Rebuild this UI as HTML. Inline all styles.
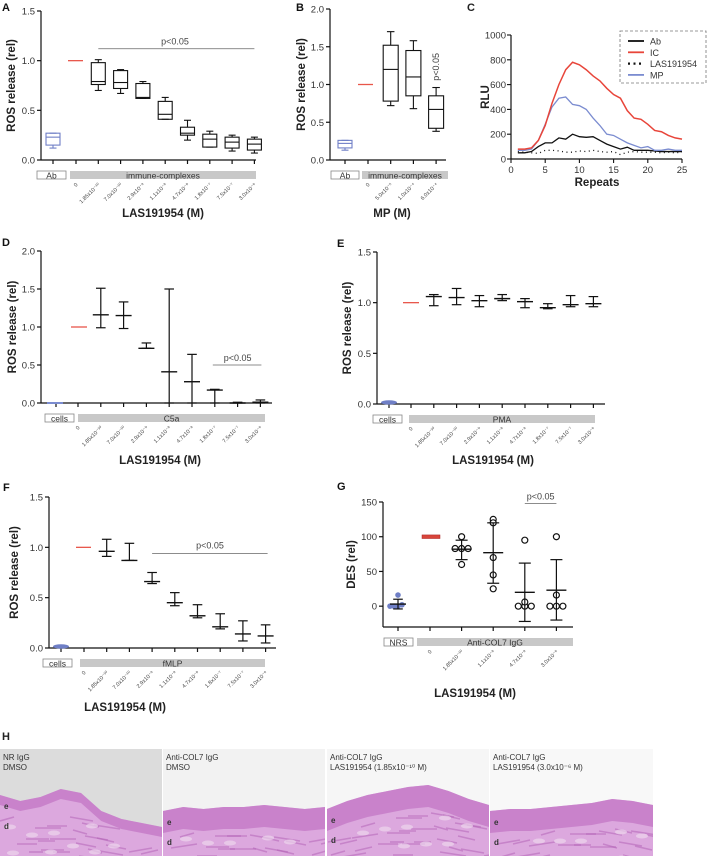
<!DOCTYPE html>
<html><head><meta charset="utf-8"><style>
html,body{margin:0;padding:0;background:#fff;overflow:hidden;width:708px;height:856px;}
svg{display:block;font-family:"Liberation Sans",Arial,sans-serif;}
</style></head><body>
<svg id="fig" width="708" height="856" viewBox="0 0 708 856" xmlns="http://www.w3.org/2000/svg"></svg>
<script>
// ---------- DATA ----------
const concA = ["0","1.85x10\u207B\u00B9\u2070","7.0x10\u207B\u00B9\u2070","2.9x10\u207B\u2079","1.1x10\u207B\u2078","4.7x10\u207B\u2078","1.8x10\u207B\u2077","7.5x10\u207B\u2077","3.0x10\u207B\u2076"];
const concB = ["0","5.0x10\u207B\u2075","1.0x10\u207B\u2074","6.0x10\u207B\u2074"];
const concG = ["0","1.85x10\u207B\u00B9\u2070","1.1x10\u207B\u2078","4.7x10\u207B\u2078","3.0x10\u207B\u2076"];
// box stats: [median, q1, q3, min, max]
const boxA = [[0.79,0.76,0.98,0.70,1.01],[0.78,0.72,0.90,0.67,0.91],[0.63,0.62,0.77,0.62,0.79],[0.46,0.41,0.59,0.41,0.63],[0.27,0.25,0.33,0.20,0.40],[0.21,0.13,0.26,0.13,0.29],[0.18,0.12,0.23,0.09,0.25],[0.16,0.10,0.21,0.07,0.23]];
const boxAbA = [0.23,0.15,0.27,0.12,0.27];
const boxB = [[1.20,0.78,1.52,0.72,1.70],[1.10,0.85,1.45,0.68,1.58],[0.67,0.42,0.85,0.38,0.96]];
const boxAbB = [0.22,0.16,0.26,0.13,0.26];
const repeats = [1,2,3,4,5,6,7,8,9,10,11,12,13,14,15,16,17,18,19,20,21,22,23,24,25];
const rluIC = [80,80,90,150,270,450,600,720,780,760,720,670,630,570,520,490,390,330,320,280,230,220,190,170,160];
const rluMP = [70,70,80,150,280,420,490,500,440,430,400,330,270,200,190,160,130,110,90,100,70,70,80,70,70];
const rluAb = [50,50,60,100,130,130,170,160,200,180,175,180,150,120,100,80,95,70,70,70,65,60,60,60,60];
const rluLAS = [60,55,50,45,70,70,65,55,55,65,60,70,60,55,60,35,55,60,55,55,55,50,55,50,55];
// mean, low, high
const errD = [[1.16,0.99,1.51],[1.15,0.98,1.33],[0.72,0.72,0.79],[0.41,0,1.5],[0.28,0,0.64],[0.17,0,0.18],[0.0,0,0.01],[0.01,0,0.04]];
const errE = [[1.06,0.97,1.08],[1.05,0.98,1.14],[1.02,0.96,1.07],[1.04,1.02,1.08],[1.01,0.95,1.04],[0.95,0.94,0.99],[0.98,0.96,1.07],[0.99,0.96,1.06]];
const errF = [[0.96,0.91,1.08],[0.87,0.87,1.04],[0.66,0.64,0.75],[0.45,0.42,0.55],[0.32,0.30,0.43],[0.21,0.19,0.34],[0.14,0.07,0.27],[0.12,0.05,0.23]];
const ptsNRS = [0,0,0,2,16];
const ptsG = [[100,83,83,83,60],[125,120,70,45,25],[95,0,0,0,6],[100,16,0,0,0]];
const errG = [[82,67,95],[77,33,120],[20,-22,62],[23,-20,67]];
const errNRS = [3,-4,10];
const ticksROS15 = [0,0.5,1.0,1.5];
const ticksROS20 = [0,0.5,1.0,1.5,2.0];
const ticksRLU = [0,200,400,600,800,1000];
const ticksRep = [0,5,10,15,20,25];
const ticksDES = [0,50,100,150];

// ---------- HELPERS ----------
const NS="http://www.w3.org/2000/svg";
const svg=document.getElementById('fig');
function el(tag,attrs,parent){const e=document.createElementNS(NS,tag);for(const k in attrs)e.setAttribute(k,attrs[k]);(parent||svg).appendChild(e);return e;}
function txt(s,x,y,opt,parent){const t=el('text',Object.assign({x:x,y:y,'font-size':9,fill:'#222'},opt||{}),parent);t.textContent=s;return t;}
function lin(x1,y1,x2,y2,c,w,parent,extra){return el('line',Object.assign({x1:x1,y1:y1,x2:x2,y2:y2,stroke:c||'#111','stroke-width':w||1.2},extra||{}),parent);}
function fmt(v){return Number.isInteger(v)&&v>=10?String(v):v.toFixed(1);}
function panel(name){const g=el('g',{});return g;}

function axes(g,o){
  const ys=v=>o.yBot-(v-o.vMin)/(o.vMax-o.vMin)*(o.yBot-o.yTop);
  const ax=lin(o.x0,o.yTop,o.x0,o.yBot,'#111',1.2,g);
  
  const bx=lin(o.x0,o.yBot,o.x1,o.yBot,'#111',1.2,g);
  
  o.ticks.forEach(v=>{const y=ys(v);lin(o.x0-4,y,o.x0,y,'#111',1.2,g);
    const t=txt(o.tickFmt?o.tickFmt(v):fmt(v),o.x0-6,y+3.5,{'text-anchor':'end','font-size':9.5,fill:'#333'},g);
    });
  o.tickXs.forEach(x=>lin(x,o.yBot,x,o.yBot+4,'#111',1.2,g));
  const cb=el('rect',{x:o.ctrlX0,y:o.yBot+11,width:o.ctrlX1-o.ctrlX0,height:8,fill:'#fff',stroke:'#888','stroke-width':0.8},g);
  
  txt(o.ctrl,(o.ctrlX0+o.ctrlX1)/2,o.yBot+18.5,{'text-anchor':'middle','font-size':8.5,fill:'#333'},g);
  const gb=el('rect',{x:o.groupX0,y:o.yBot+11,width:o.groupX1-o.groupX0,height:8,fill:'#c8c8c8'},g);
  
  txt(o.groupLabel,(o.groupX0+o.groupX1)/2,o.yBot+18.5,{'text-anchor':'middle','font-size':8.5,fill:'#333'},g);
  o.catLabels.forEach((s,i)=>{const x=o.catXs[i],y=o.yBot+25;
    const t=txt(s,x+2,y,{'text-anchor':'end','font-size':5.5,fill:'#444',transform:`rotate(-45 ${x+2} ${y})`},g);
    });
  const xl=txt(o.xlabel,o.xlabelX,o.xlabelY,{'text-anchor':'middle','font-size':11.5,'font-weight':'bold',fill:'#222'},g);
  
  const yl=txt(o.ylabel,0,0,{'text-anchor':'middle','font-size':11.5,'font-weight':'bold',fill:'#222',transform:`translate(${o.ylabelX},${(o.yTop+o.yBot)/2}) rotate(-90)`},g);
  
  const L=txt(o.letter,o.lx,o.ly,{'font-size':11,'font-weight':'bold',fill:'#111'},g);
  
  return ys;
}
function boxPlot(g,x,b,ys,c,w){
  const [med,q1,q3,mn,mx]=b;const hw=w/2;
  lin(x,ys(mx),x,ys(q3),c,1.1,g);lin(x,ys(q1),x,ys(mn),c,1.1,g);
  lin(x-hw/2,ys(mx),x+hw/2,ys(mx),c,1.1,g);lin(x-hw/2,ys(mn),x+hw/2,ys(mn),c,1.1,g);
  const r=el('rect',{x:x-hw,y:ys(q3),width:w,height:ys(q1)-ys(q3),fill:'none',stroke:c,'stroke-width':1.1},g);
  
  lin(x-hw,ys(med),x+hw,ys(med),c,1.1,g);
}
function errBar(g,x,e,ys,c,w){
  const [m,lo,hi]=e;
  lin(x,ys(hi),x,ys(lo),c,1.2,g);
  lin(x-w*0.3,ys(hi),x+w*0.3,ys(hi),c,1.2,g);
  lin(x-w*0.3,ys(lo),x+w*0.3,ys(lo),c,1.2,g);
  const ml=lin(x-w/2,ys(m),x+w/2,ys(m),c,1.4,g);
  
}
function catXs(start,step,n){const a=[];for(let i=0;i<n;i++)a.push(start+i*step);return a;}

// ---------- PANEL A ----------
(function(){
  const g=panel('panel-a');
  const xs=catXs(76,22.3,concA.length);
  const ys=axes(g,{x0:41,x1:256,yTop:11,yBot:160,vMin:0,vMax:1.5,ticks:ticksROS15,tickXs:[53].concat(xs),
    ctrl:'Ab',ctrlX0:37,ctrlX1:66,groupLabel:'immune-complexes',groupX0:70,groupX1:256,catLabels:concA,catXs:xs,
    xlabel:'LAS191954 (M)',xlabelX:163,xlabelY:217,ylabel:'ROS release (rel)',ylabelX:15,letter:'A',lx:2,ly:11});
  boxPlot(g,53,boxAbA,ys,'#6f7fc6',14);
  const r=lin(68,ys(1),83,ys(1),'#e8564a',1.3,g);
  boxA.forEach((b,i)=>boxPlot(g,xs[i+1],b,ys,'#111',14));
  lin(xs[1],ys(1.12),xs[8],ys(1.12),'#666',0.8,g);
  txt('p<0.05',175,ys(1.12)-4,{'text-anchor':'middle','font-size':9,fill:'#444'},g);
})();
// ---------- PANEL B ----------
(function(){
  const g=panel('panel-b');
  const xs=catXs(368,22.7,concB.length);
  const ys=axes(g,{x0:330,x1:446,yTop:9,yBot:160,vMin:0,vMax:2.0,ticks:ticksROS20,tickXs:[345].concat(xs),
    ctrl:'Ab',ctrlX0:331,ctrlX1:359,groupLabel:'immune-complexes',groupX0:362,groupX1:448,catLabels:concB,catXs:xs,
    xlabel:'MP (M)',xlabelX:392,xlabelY:217,ylabel:'ROS release (rel)',ylabelX:305,letter:'B',lx:296,ly:11});
  boxPlot(g,345,boxAbB,ys,'#6f7fc6',14);
  lin(358,ys(1),373,ys(1),'#e8564a',1.3,g);
  boxB.forEach((b,i)=>boxPlot(g,xs[i+1],b,ys,'#111',15));
  txt('p<0.05',0,0,{'font-size':9,fill:'#444',transform:`translate(${xs[3]+3},${ys(1.05)}) rotate(-90)`},g);
})();
// ---------- PANEL C ----------
(function(){
  const g=panel('panel-c');
  const x0=511,x1=682,yT=35,yB=159;
  const xsc=v=>x0+v/25*(x1-x0), ysc=v=>yB-v/1000*(yB-yT);
  lin(x0,yT,x0,yB,'#111',1.2,g);lin(x0,yB,x1,yB,'#111',1.2,g);
  ticksRLU.forEach(v=>{lin(x0-4,ysc(v),x0,ysc(v),'#111',1.1,g);txt(String(v),x0-5,ysc(v)+3.5,{'text-anchor':'end','font-size':9.5,fill:'#333'},g);});
  ticksRep.forEach(v=>{lin(xsc(v),yB,xsc(v),yB+4,'#111',1.1,g);txt(String(v),xsc(v),yB+14,{'text-anchor':'middle','font-size':9.5,fill:'#333'},g);});
  txt('Repeats',597,186,{'text-anchor':'middle','font-size':11.5,'font-weight':'bold'},g);
  txt('RLU',0,0,{'text-anchor':'middle','font-size':11.5,'font-weight':'bold',transform:'translate(489,97) rotate(-90)'},g);
  txt('C',467,11,{'font-size':11,'font-weight':'bold'},g);
  const series=[[rluLAS,'#111','1,3.5',1.3,'line-las191954'],[rluAb,'#111','',1.3,'line-ab'],[rluMP,'#7b8cd0','',1.3,'line-mp'],[rluIC,'#e8453a','',1.5,'line-ic']];
  series.forEach(([d,c,da,w,n])=>{
    const p=el('polyline',{points:d.map((v,i)=>xsc(repeats[i])+','+ysc(v)).join(' '),fill:'none',stroke:c,'stroke-width':w,'stroke-dasharray':da},g);
    
  });
  const lg=el('g',{},g);
  el('rect',{x:620,y:31,width:86,height:52,fill:'#fff',stroke:'#777','stroke-width':0.8,'stroke-dasharray':'3,2'},lg);
  [['Ab','#111',''],['IC','#e8453a',''],['LAS191954','#111','2,3.5'],['MP','#7b8cd0','']].forEach(([n,c,da],i)=>{
    const y=41+i*11.3;
    lin(628,y,644,y,c,n==='LAS191954'?2.2:1.8,lg,{'stroke-dasharray':da});
    const t=txt(n,650,y+3.5,{'font-size':9,fill:'#333'},lg);
    
  });
})();
// ---------- PANEL D ----------
(function(){
  const g=panel('panel-d');
  const xs=catXs(78,22.8,concA.length);
  const ys=axes(g,{x0:41,x1:272,yTop:251,yBot:403,vMin:0,vMax:2.0,ticks:ticksROS20,tickXs:[56].concat(xs),
    ctrl:'cells',ctrlX0:45,ctrlX1:74,groupLabel:'C5a',groupX0:78,groupX1:265,catLabels:concA,catXs:xs,
    xlabel:'LAS191954 (M)',xlabelX:160,xlabelY:464,ylabel:'ROS release (rel)',ylabelX:16,letter:'D',lx:2,ly:246});
  lin(47,ys(0),63,ys(0),'#7b8cd0',2,g);
  lin(71,ys(1),87,ys(1),'#e8564a',1.3,g);
  errD.forEach((e,i)=>errBar(g,xs[i+1],e,ys,'#111',16));
  lin(xs[6]-2,ys(0.5),xs[8]+1,ys(0.5),'#666',0.8,g);
  txt('p<0.05',(xs[6]+xs[8])/2,ys(0.5)-4,{'text-anchor':'middle','font-size':9,fill:'#444'},g);
})();
// ---------- PANEL E ----------
(function(){
  const g=panel('panel-e');
  const xs=catXs(411,22.8,concA.length);
  const ys=axes(g,{x0:377,x1:605,yTop:252,yBot:404,vMin:0,vMax:1.5,ticks:ticksROS15,tickXs:[389].concat(xs),
    ctrl:'cells',ctrlX0:373,ctrlX1:402,groupLabel:'PMA',groupX0:409,groupX1:595,catLabels:concA,catXs:xs,
    xlabel:'LAS191954 (M)',xlabelX:493,xlabelY:464,ylabel:'ROS release (rel)',ylabelX:351,letter:'E',lx:337,ly:247});
  el('ellipse',{cx:389,cy:ys(0.015),rx:8,ry:2.2,fill:'#6f7fc6'},g);
  lin(403,ys(1),419,ys(1),'#e8564a',1.3,g);
  errE.forEach((e,i)=>errBar(g,xs[i+1],e,ys,'#111',16));
})();
// ---------- PANEL F ----------
(function(){
  const g=panel('panel-f');
  const xs=catXs(84,22.7,concA.length);
  const ys=axes(g,{x0:49,x1:276,yTop:497,yBot:648,vMin:0,vMax:1.5,ticks:ticksROS15,tickXs:[61].concat(xs),
    ctrl:'cells',ctrlX0:43,ctrlX1:72,groupLabel:'fMLP',groupX0:80,groupX1:265,catLabels:concA,catXs:xs,
    xlabel:'LAS191954 (M)',xlabelX:125,xlabelY:711,ylabel:'ROS release (rel)',ylabelX:18,letter:'F',lx:3,ly:491});
  el('ellipse',{cx:61,cy:ys(0.015),rx:8,ry:2.2,fill:'#6f7fc6'},g);
  lin(76,ys(1),91,ys(1),'#e8564a',1.3,g);
  errF.forEach((e,i)=>errBar(g,xs[i+1],e,ys,'#111',16));
  lin(xs[3],ys(0.94),xs[8]+2,ys(0.94),'#666',0.8,g);
  txt('p<0.05',210,ys(0.94)-5,{'text-anchor':'middle','font-size':9,fill:'#444'},g);
})();
// ---------- PANEL G ----------
(function(){
  const g=panel('panel-g');
  const xs=catXs(430,31.6,concG.length);
  const ys=axes(g,{x0:383,x1:573,yTop:502,yBot:627,vMin:-30,vMax:150,ticks:ticksDES,tickFmt:v=>String(v),tickXs:[398].concat(xs),
    ctrl:'NRS',ctrlX0:384,ctrlX1:413,groupLabel:'Anti-COL7 IgG',groupX0:417,groupX1:573,catLabels:concG,catXs:xs,
    xlabel:'LAS191954 (M)',xlabelX:475,xlabelY:697,ylabel:'DES (rel)',ylabelX:355,letter:'G',lx:337,ly:490});
  const off=[-8,-4,0,4,8];
  ptsNRS.forEach((v,i)=>{const c=el('circle',{cx:398+off[i]*(v>10?0:1),cy:ys(v),r:2.8,fill:'#6f7fc6'},g);});
  errBar(g,398,errNRS,ys,'#111',16);
  const rb=el('rect',{x:422,y:ys(100)-1.8,width:18,height:3.6,fill:'#d8453a',stroke:'#a22',"stroke-width":0.5},g);
  
  ptsG.forEach((pts,k)=>{
    const x=xs[k+1];
    const seen={};
    pts.forEach(v=>{const key=Math.round(v/8);seen[key]=(seen[key]||0)+1;});
    const idx={};
    pts.forEach(v=>{const key=Math.round(v/8);const n=seen[key];idx[key]=(idx[key]||0);const dx=(idx[key]-(n-1)/2)*6.5;idx[key]++;
      const c=el('circle',{cx:x+dx,cy:ys(v),r:3,fill:'#fff',stroke:'#111','stroke-width':1.2},g);
      });
    errBar(g,x,errG[k],ys,'#111',20);
  });
  lin(xs[3],ys(148),xs[4],ys(148),'#666',0.8,g);
  txt('p<0.05',(xs[3]+xs[4])/2,ys(148)-4,{'text-anchor':'middle','font-size':9,fill:'#444'},g);
})();
// ---------- PANEL H ----------
(function(){
  const g=panel('panel-h-histology');
  txt('H',2,740,{'font-size':11,'font-weight':'bold'},g);
  const defs=el('defs',{},g);
  const panels=[[0,162,'#dcdcdc',['NR IgG','DMSO'],[46,52,48,40,44,62,70,74,78]],
                [163,325,'#f2f2f2',['Anti-COL7 IgG','DMSO'],[62,58,60,58,58,56,58,60,58]],
                [327,489,'#f6f6f6',['Anti-COL7 IgG','LAS191954 (1.85x10\u207B\u00B9\u2070 M)'],[60,52,46,42,38,36,42,50,56]],
                [490,653,'#f8f8f8',['Anti-COL7 IgG','LAS191954 (3.0x10\u207B\u2076 M)'],[62,60,60,58,56,54,50,52,56]]];
  panels.forEach(([a,b,bg,lab,prof],i)=>{
    const cp=el('clipPath',{id:'hclip'+i},defs);
    el('rect',{x:a,y:749,width:b-a,height:107},cp);
    const pg=el('g',{'clip-path':`url(#hclip${i})`},g);
    el('rect',{x:a,y:749,width:b-a,height:107,fill:bg},pg);
    const w=b-a;
    const pts=prof.map((p,k)=>[a+w*k/8,749+p]);
    let d=`M${a},856 `+pts.map(p=>`L${p[0]},${p[1]}`).join(' ')+` L${b},856 Z`;
    el('path',{d:d,fill:'#dca8de'},pg);
    let d2=pts.map((p,k)=>(k?'L':'M')+p[0]+','+p[1]).join(' ')+' '+pts.slice().reverse().map(p=>`L${p[0]},${p[1]+(i===0?10:22)}`).join(' ')+' Z';
    el('path',{d:d2,fill:'#c67bc8',opacity:0.85},pg);
    for(let k=0;k<40;k++){const x=a+((k*53+i*17)%w),y=749+prof[Math.min(8,Math.floor((x-a)/w*8))]+26+((k*29)%50);
      el('line',{x1:x,y1:y,x2:x+14+(k%5)*3,y2:y+((k%3)-1)*4,stroke:'#b565b8','stroke-width':1.6,opacity:0.55},pg);}
    for(let k=0;k<10;k++){const x=a+((k*41+i*13)%(w-20))+10,y=749+prof[Math.min(8,Math.floor((x-a)/w*8))]+32+((k*23)%45);
      el('ellipse',{cx:x,cy:y,rx:6,ry:2.5,fill:'#ecd6ec',opacity:0.7},pg);}
    txt(lab[0],a+3,760,{'font-size':8,fill:'#333'},pg);
    txt(lab[1],a+3,770,{'font-size':8,fill:'#333'},pg);
    txt('e',a+4,749+prof[0]+14,{'font-size':8,'font-weight':'bold',fill:'#333'},pg);
    txt('d',a+4,749+prof[0]+34,{'font-size':8,'font-weight':'bold',fill:'#333'},pg);
  });
})();
</script>
</body></html>
